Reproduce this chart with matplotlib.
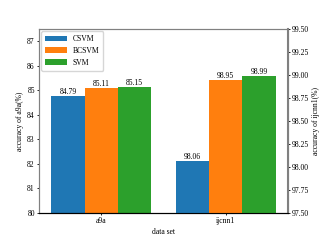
import numpy as np
import matplotlib.pyplot as plt

plt.rcParams['font.family'] = ['Liberation Serif', 'DejaVu Serif']

datasets = ['a9a', 'ijcnn1']
methods = ['CSVM', 'BCSVM', 'SVM']
acc_a9a = [84.79, 85.11, 85.15]
acc_ijcnn1 = [98.06, 98.95, 98.99]
colors = ['#1f77b4', '#ff7f0e', '#2ca02c']

width = 0.8 / 3
offsets = [-width, 0, width]
fs = 5.5

fig, ax1 = plt.subplots(figsize=(3.2, 2.4), dpi=100)
ax2 = ax1.twinx()

for i in range(3):
    b1 = ax1.bar(0 + offsets[i], acc_a9a[i], width, color=colors[i], label=methods[i])
    ax1.bar_label(b1, fmt='%.2f', fontsize=fs, padding=0)
    b2 = ax2.bar(1 + offsets[i], acc_ijcnn1[i], width, color=colors[i])
    ax2.bar_label(b2, fmt='%.2f', fontsize=fs, padding=0)

ax1.set_xlim(-0.5, 1.5)
ax1.set_ylim(80, 87.5)
ax2.set_ylim(97.5, 99.5)
ax1.set_yticks(np.arange(80, 88, 1))
ax2.set_yticks(np.arange(97.5, 99.51, 0.25))
ax1.set_xticks([0, 1])
ax1.set_xticklabels(datasets)

ax1.set_xlabel('data set', fontsize=fs, labelpad=2)
ax1.set_ylabel('accuracy of a9a(%)', fontsize=fs, labelpad=2)
ax2.set_ylabel('accuracy of ijcnn1(%)', fontsize=fs, labelpad=2)
ax1.tick_params(labelsize=fs, length=1.5, width=0.6, pad=1.5)
ax2.tick_params(labelsize=fs, length=1.5, width=0.6, pad=1.5)

for ax in (ax1, ax2):
    for s in ['top', 'left', 'right']:
        ax.spines[s].set_color('#808080')
    ax.spines['bottom'].set_color('black')
ax2.spines['right'].set_linewidth(1.5)

ax1.legend(loc='upper left', fontsize=fs, handlelength=2.8, handleheight=0.8,
           borderpad=0.5, labelspacing=0.5, borderaxespad=0.3)

fig.subplots_adjust(left=0.122, right=0.9, bottom=0.1125, top=0.879)
fig.savefig('out.png')
